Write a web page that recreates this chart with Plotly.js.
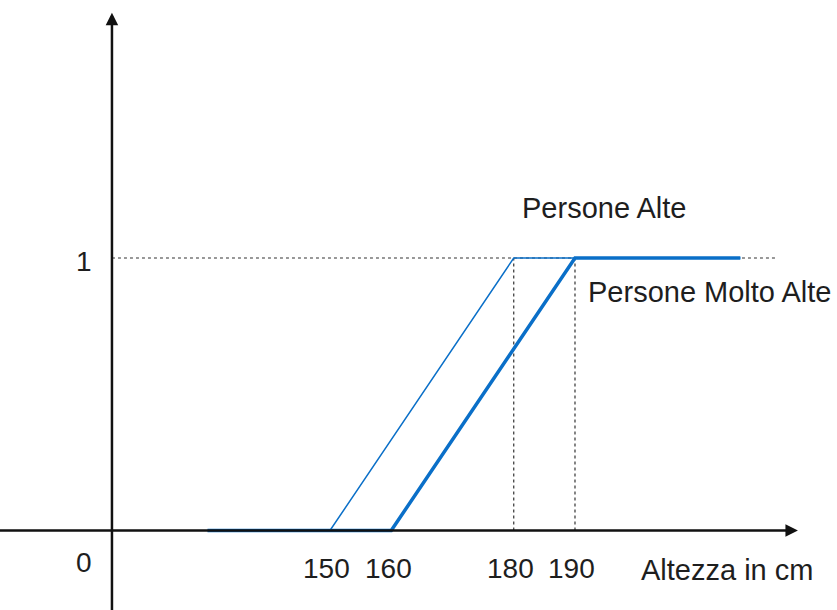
<!DOCTYPE html>
<html>
<head>
<meta charset="utf-8">
<script src="https://cdn.plot.ly/plotly-3.0.1.min.js"></script>
<style>html,body{margin:0;padding:0;background:#fff;}#chart{width:837px;height:610px;}</style>
</head>
<body>
<div id="chart"></div>
<script>
// Data
const altiX = [130, 150, 180, 217];
const altiY = [0, 0, 1, 1];
const moltoAltiX = [130, 160, 190, 217];
const moltoAltiY = [0, 0, 1, 1];
const tickVals = [150, 160, 180, 190];
const tickText = ['150', '160', '180', '190'];
const yTickVals = [0, 1];
const yTickText = ['0', '1'];
const guideX = [180, 190];
const seriesNames = ['Persone Alte', 'Persone Molto Alte'];
const xTitle = 'Altezza in cm';

const blue = '#0a6fc8';
const txt = '#1e1e1e';
const tickFont = {family: 'Liberation Sans, Arial, sans-serif', size: 28, color: txt};
const labelFont = {family: 'Liberation Sans, Arial, sans-serif', size: 29, color: txt};

const traces = [];
// dotted guides
traces.push({x: [114.4, 222.8], y: [1, 1], mode: 'lines', line: {color: '#333', width: 1.2, dash: 'dot'}, hoverinfo: 'skip'});
guideX.forEach(g => traces.push({x: [g, g], y: [0, 1], mode: 'lines', line: {color: '#333', width: 1.2, dash: 'dot'}, hoverinfo: 'skip'}));
traces.push({x: altiX, y: altiY, mode: 'lines', name: seriesNames[0], line: {color: blue, width: 1.5}});
traces.push({x: moltoAltiX, y: moltoAltiY, mode: 'lines', name: seriesNames[1], line: {color: blue, width: 3.5}});

const ann = [];
// axes arrows
ann.push({x: 226.4, y: 0, ax: 95, ay: 0, xref: 'x', yref: 'y', axref: 'x', ayref: 'y', text: '', showarrow: true, arrowhead: 2, arrowsize: 1, arrowwidth: 2.5, arrowcolor: '#111', standoff: 0, startstandoff: 0});
ann.push({x: 114.4, y: 1.9, ax: 114.4, ay: -0.35, xref: 'x', yref: 'y', axref: 'x', ayref: 'y', text: '', showarrow: true, arrowhead: 2, arrowsize: 1, arrowwidth: 2.5, arrowcolor: '#111', standoff: 0, startstandoff: 0});
// x tick labels
tickVals.forEach((v, i) => ann.push({x: v - 0.5, y: -0.138, xref: 'x', yref: 'y', text: tickText[i], showarrow: false, font: tickFont}));
// y tick labels
const yLabPos = [-0.116, 0.986];
yTickVals.forEach((v, i) => ann.push({x: 109.9, y: yLabPos[i], xref: 'x', yref: 'y', text: yTickText[i], showarrow: false, font: tickFont}));
// titles / series labels
ann.push({x: 214.8, y: -0.145, xref: 'x', yref: 'y', text: xTitle, showarrow: false, font: labelFont});
ann.push({x: 194.7, y: 1.183, xref: 'x', yref: 'y', text: seriesNames[0], showarrow: false, font: labelFont});
ann.push({x: 212.0, y: 0.875, xref: 'x', yref: 'y', text: seriesNames[1], showarrow: false, font: labelFont});

const layout = {
  width: 837, height: 610,
  margin: {l: 0, r: 0, t: 0, b: 0},
  paper_bgcolor: '#fff', plot_bgcolor: '#fff',
  showlegend: false,
  xaxis: {range: [96.12, 232.78], visible: false, fixedrange: true},
  yaxis: {range: [-0.2917, 1.9468], visible: false, fixedrange: true},
  annotations: ann
};
Plotly.newPlot('chart', traces, layout, {displayModeBar: false, staticPlot: true});
</script>
</body>
</html>
